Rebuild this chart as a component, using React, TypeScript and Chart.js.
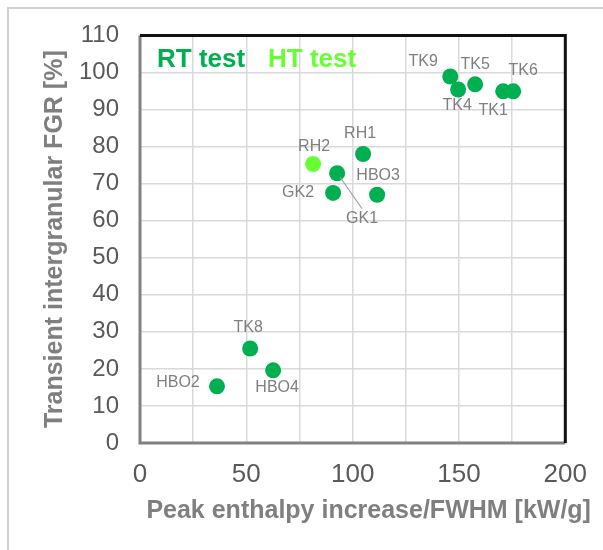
import React, { useEffect, useRef } from "react";
import { Chart, registerables } from "chart.js";

Chart.register(...registerables);

// RT test points
const rtNames = ["TK9", "TK4", "TK5", "TK1", "TK6", "RH1", "HBO3", "GK2", "GK1", "TK8", "HBO4", "HBO2"];
const rtX = [145.9, 149.6, 157.6, 170.8, 175.5, 104.9, 92.7, 90.8, 111.5, 51.8, 62.6, 36.2];
const rtY = [98.9, 95.4, 96.8, 94.9, 94.9, 78.0, 72.8, 67.5, 67.0, 25.5, 19.6, 15.3];
// HT test points
const htNames = ["RH2"];
const htX = [81.4];
const htY = [75.3];

const xTicks = [0, 50, 100, 150, 200];
const yTicks = [0, 10, 20, 30, 40, 50, 60, 70, 80, 90, 100, 110];

const xTitle = "Peak enthalpy increase/FWHM [kW/g]";
const yTitle = "Transient intergranular FGR [%]";

// label offsets in pixels (style, not data)
const rtLabelOffsets: [number, number][] = [
  [-27, -15], [-1, 16], [0, -20], [-10, 19], [10, -21], [-3, -20],
  [41, 2], [-35, 0], [-15, 24], [-2, -21], [4, 17], [-39, -4],
];
const htLabelOffsets: [number, number][] = [[1, -17]];

const FONT = "'Liberation Sans', Arial, sans-serif";
const DARK = "#00B050";
const LIGHT = "#66FF33";
const LABEL = "#7f7f7f";

export default function App() {
  const ref = useRef<HTMLCanvasElement>(null);
  useEffect(() => {
    document.body.style.margin = "0";
    const canvas = ref.current!;
    const labelPlugin = {
      id: "labels",
      beforeDraw(chart: any) {
        const ctx = chart.ctx;
        ctx.save();
        ctx.fillStyle = "#ffffff";
        ctx.fillRect(0, 0, chart.width, chart.height);
        ctx.strokeStyle = "#d0d0d0";
        ctx.lineWidth = 2;
        ctx.beginPath();
        ctx.moveTo(8, chart.height);
        ctx.lineTo(8, 8);
        ctx.lineTo(chart.width, 8);
        ctx.stroke();
        ctx.restore();
      },
      afterDatasetsDraw(chart: any) {
        const ctx = chart.ctx;
        const a = chart.chartArea;
        ctx.save();
        // plot frame
        ctx.lineWidth = 3;
        ctx.strokeStyle = "#808080";
        ctx.beginPath();
        ctx.moveTo(a.left, a.top);
        ctx.lineTo(a.left, a.bottom);
        ctx.lineTo(a.right, a.bottom);
        ctx.stroke();
        ctx.strokeStyle = "#111111";
        ctx.beginPath();
        ctx.moveTo(a.left, a.top);
        ctx.lineTo(a.right, a.top);
        ctx.lineTo(a.right, a.bottom);
        ctx.stroke();

        const xs = chart.scales.x;
        const ys = chart.scales.y;
        // leader line HBO3 -> GK1 label
        const iH = rtNames.indexOf("HBO3");
        const iG = rtNames.indexOf("GK1");
        const hx = xs.getPixelForValue(rtX[iH]);
        const hy = ys.getPixelForValue(rtY[iH]);
        const gx = xs.getPixelForValue(rtX[iG]) + rtLabelOffsets[iG][0];
        const gy = ys.getPixelForValue(rtY[iG]) + rtLabelOffsets[iG][1] - 10;
        ctx.strokeStyle = "#a0a0a0";
        ctx.lineWidth = 1.2;
        ctx.beginPath();
        ctx.moveTo(hx + 3, hy + 4);
        ctx.lineTo(gx, gy);
        ctx.stroke();

        ctx.font = `16px ${FONT}`;
        ctx.fillStyle = LABEL;
        ctx.textAlign = "center";
        ctx.textBaseline = "middle";
        rtNames.forEach((n, i) => {
          const px = xs.getPixelForValue(rtX[i]) + rtLabelOffsets[i][0];
          const py = ys.getPixelForValue(rtY[i]) + rtLabelOffsets[i][1];
          ctx.fillText(n, px, py);
        });
        htNames.forEach((n, i) => {
          const px = xs.getPixelForValue(htX[i]) + htLabelOffsets[i][0];
          const py = ys.getPixelForValue(htY[i]) + htLabelOffsets[i][1];
          ctx.fillText(n, px, py);
        });

        // legend text
        ctx.font = `bold 26px ${FONT}`;
        ctx.textAlign = "left";
        ctx.textBaseline = "alphabetic";
        ctx.fillStyle = DARK;
        ctx.fillText("RT test", a.left + 17, a.top + 32);
        ctx.fillStyle = LIGHT;
        ctx.fillText("HT test", a.left + 128, a.top + 32);

        // x axis title
        ctx.font = `bold 25px ${FONT}`;
        ctx.fillStyle = "#7f7f7f";
        ctx.textAlign = "center";
        ctx.fillText(xTitle, (a.left + a.right) / 2 + 16, 518);
        ctx.restore();
      },
    };

    const chart = new Chart(canvas, {
      type: "scatter",
      data: {
        datasets: [
          {
            label: "RT test",
            data: rtX.map((x, i) => ({ x, y: rtY[i] })),
            backgroundColor: DARK,
            borderWidth: 0,
            pointRadius: 8,
          },
          {
            label: "HT test",
            data: htX.map((x, i) => ({ x, y: htY[i] })),
            backgroundColor: LIGHT,
            borderWidth: 0,
            pointRadius: 8,
          },
        ],
      },
      options: {
        animation: false,
        responsive: false,
        layout: { padding: { top: 33, right: 37, left: 0, bottom: 0 } },
        plugins: { legend: { display: false }, tooltip: { enabled: false } },
        scales: {
          x: {
            type: "linear",
            min: 0,
            max: 200,
            afterFit(s: any) { s.height = 107; },
            afterBuildTicks(s: any) {
              const t: any[] = [];
              for (let v = 0; v <= 200; v += 25) t.push({ value: v });
              s.ticks = t;
            },
            ticks: {
              autoSkip: false,
              maxRotation: 0,
              padding: 16,
              color: "#595959",
              font: { family: FONT, size: 26 },
              callback: (v: any) => (xTicks.includes(Number(v)) ? String(v) : ""),
            },
            grid: { color: "#d9d9d9", lineWidth: 1.5, drawTicks: false },
            border: { display: false },
          },
          y: {
            type: "linear",
            min: 0,
            max: 110,
            afterFit(s: any) { s.width = 140; },
            afterBuildTicks(s: any) {
              s.ticks = yTicks.map((v) => ({ value: v }));
            },
            ticks: {
              autoSkip: false,
              padding: 21,
              color: "#595959",
              font: { family: FONT, size: 24 },
            },
            grid: { color: "#d9d9d9", lineWidth: 1.5, drawTicks: false },
            border: { display: false },
            title: {
              display: true,
              text: yTitle,
              color: "#7f7f7f",
              font: { family: FONT, size: 25, weight: "bold" },
              padding: { top: 40, bottom: 0 },
            },
          },
        },
      },
      plugins: [labelPlugin],
    });
    return () => chart.destroy();
  }, []);
  return <canvas ref={ref} width={603} height={550} style={{ display: "block" }} />;
}
